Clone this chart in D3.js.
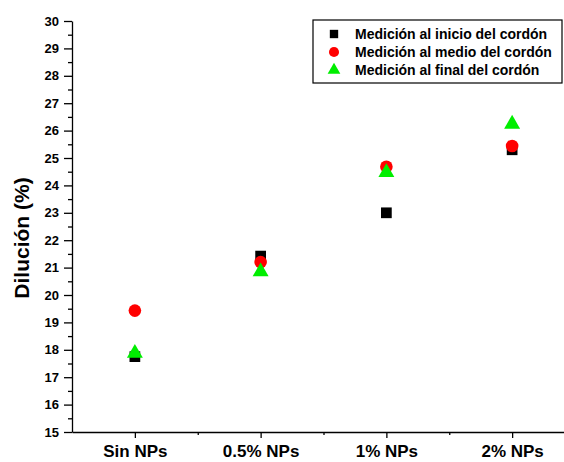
<!DOCTYPE html>
<html>
<head>
<meta charset="utf-8">
<script src="https://cdn.jsdelivr.net/npm/d3@7"></script>
<style>
  html, body { margin: 0; padding: 0; background: #fff; }
  svg { display: block; font-family: "Liberation Sans", Arial, sans-serif; }
</style>
</head>
<body>
<svg id="chart" width="564" height="462"></svg>
<script>
// Dilution measured at three positions along the weld bead
const categories = ["Sin NPs", "0.5% NPs", "1% NPs", "2% NPs"];
const inicio = [17.75, 21.42, 23.0, 25.3];
const medio  = [19.43, 21.2, 24.68, 25.44];
const final  = [17.88, 20.85, 24.47, 26.24];
const yTicks = d3.range(15, 31, 1);
const seriesNames = ["Medición al inicio del cordón", "Medición al medio del cordón", "Medición al final del cordón"];

const svg = d3.select("#chart");
const plotLeft = 72, plotBottom = 432, plotTop = 21, plotRight = 575;

const x = d3.scaleLinear().domain([-0.5, 3.5]).range([plotLeft, plotRight]);
const y = d3.scaleLinear().domain([15, 30]).range([plotBottom, plotTop]);

// Y axis: major ticks with labels, minor ticks at half units
const yAxis = svg.append("g").attr("transform", `translate(${plotLeft},0)`)
  .call(d3.axisLeft(y).tickValues(yTicks).tickSize(8).tickSizeOuter(0).tickPadding(5).tickFormat(d3.format("d")));
yAxis.selectAll("text").attr("font-size", 13).attr("font-weight", "bold").attr("fill", "#000");
svg.append("g").attr("transform", `translate(${plotLeft},0)`)
  .call(d3.axisLeft(y).tickValues(d3.range(15.5, 30, 1)).tickSize(4).tickSizeOuter(0).tickFormat(""))
  .select(".domain").remove();

// X axis: category ticks plus minor ticks between categories
const xAxis = svg.append("g").attr("transform", `translate(0,${plotBottom})`)
  .call(d3.axisBottom(x).tickValues([0, 1, 2, 3]).tickSize(6).tickSizeOuter(0).tickPadding(7).tickFormat(i => categories[i]));
xAxis.selectAll("text").attr("font-size", 17).attr("font-weight", "bold").attr("fill", "#000");
svg.append("g").attr("transform", `translate(0,${plotBottom})`)
  .call(d3.axisBottom(x).tickValues([0.5, 1.5, 2.5]).tickSize(3).tickSizeOuter(0).tickFormat(""))
  .select(".domain").remove();
svg.selectAll(".domain, .tick line").attr("stroke", "#000").attr("stroke-width", 1.3);

// Y title
svg.append("text")
  .attr("transform", `translate(29,238) rotate(-90)`)
  .attr("text-anchor", "middle")
  .attr("font-size", 21).attr("font-weight", "bold")
  .text("Dilución (%)");

// Markers
const sym = [
  { data: inicio, type: d3.symbolSquare, size: 115, color: "#000000" },
  { data: medio,  type: d3.symbolCircle, size: 125, color: "#ff0000" },
  { data: final,  type: d3.symbolTriangle, size: 110, color: "#00ee00" }
];
sym.forEach(s => {
  svg.append("g").selectAll("path").data(s.data).join("path")
    .attr("transform", (d, i) => `translate(${x(i)},${y(d)})`)
    .attr("d", d3.symbol().type(s.type).size(s.size))
    .attr("fill", s.color);
});

// Legend
const lg = svg.append("g");
lg.append("rect").attr("x", 313).attr("y", 20).attr("width", 249).attr("height", 63)
  .attr("fill", "#fff").attr("stroke", "#000").attr("stroke-width", 1.2);
const rowY = [34, 52, 70];
sym.forEach((s, i) => {
  lg.append("path")
    .attr("transform", `translate(334,${rowY[i]})`)
    .attr("d", d3.symbol().type(s.type).size(i === 1 ? 80 : 70))
    .attr("fill", s.color);
  lg.append("text").attr("x", 355).attr("y", rowY[i]).attr("dy", "0.35em")
    .attr("font-size", 14).attr("font-weight", "bold")
    .text(seriesNames[i]);
});
</script>
</body>
</html>
